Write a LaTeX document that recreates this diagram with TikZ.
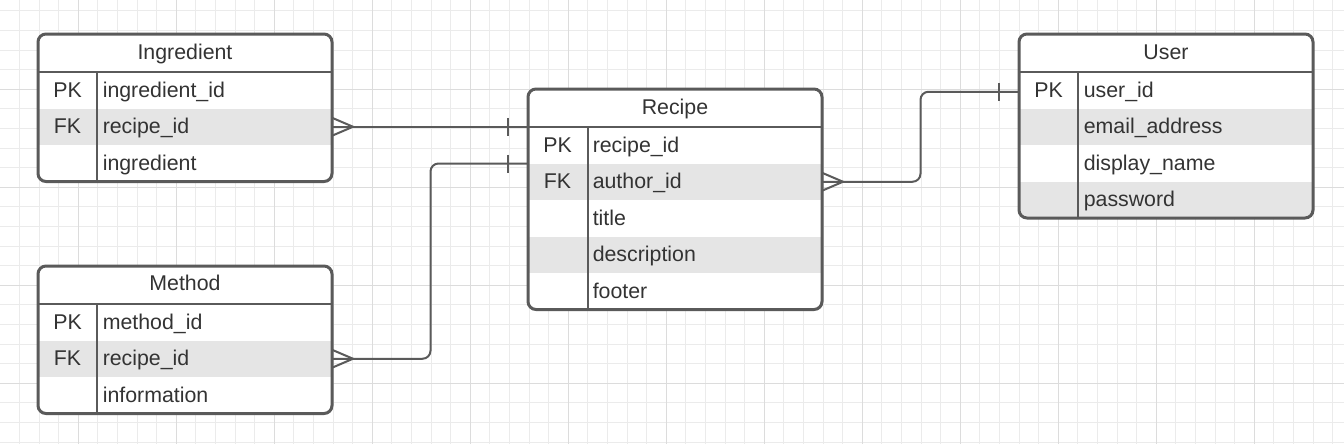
\documentclass[tikz,border=0pt]{standalone}
\usepackage{fontspec}
\setmainfont{Liberation Sans}
\usetikzlibrary{positioning,
                calc}               % shifted anchors

\definecolor{gridminor}{HTML}{EBEBEB}
\definecolor{gridmajor}{HTML}{DCDCDC}
\definecolor{edge}{HTML}{5A5A5A}
\definecolor{rowgray}{HTML}{E5E5E5}
\definecolor{ink}{HTML}{333333}

\tikzset{
  tbl/.style={draw=edge, line width=2.25pt, rounded corners=6pt},
  sep/.style={draw=edge, line width=1.5pt},
  rowbox/.style={minimum width=220.5pt, minimum height=27.375pt, inner sep=0pt, outer sep=0pt},
  txt/.style={text=ink, inner sep=0pt, anchor=base, font=\fontsize{16}{19}\selectfont},
  link/.style={draw=edge, line width=1.5pt, rounded corners=6pt},
  foot/.style={draw=edge, line width=1.5pt, sharp corners},
}

\begin{document}
\begin{tikzpicture}[x=0.75pt, y=-0.75pt]
        \useasboundingbox (0,0) rectangle (1344,444);
        \fill[white] (0,0) rectangle (1344,444);

        % grid
        \foreach \k in {0,...,68}
          \draw[gridminor, line width=0.75pt] ({-0.1+19.6*\k},0) -- ++(0,444);
        \foreach \k in {0,...,22}
          \draw[gridminor, line width=0.75pt] (0,{10.9+19.6*\k}) -- ++(1344,0);
        \foreach \k in {4,9,...,64}
          \draw[gridmajor, line width=0.75pt] ({-0.1+19.6*\k},0) -- ++(0,444);
        \foreach \k in {4,9,...,19}
          \draw[gridmajor, line width=0.75pt] (0,{10.9+19.6*\k}) -- ++(1344,0);

        % Ingredient
        \begin{scope}
          \clip[rounded corners=6pt] (38,34) rectangle (332,181.5);
          \fill[white] (38,34) rectangle (332,181.5);
          \foreach \k/\f [count=\i] in {PK/ingredient\_id, FK/recipe\_id, /ingredient} {
            \pgfmathtruncatemacro\shade{isodd(\i) ? 0 : 100}
            \node[rowbox, fill=rowgray!\shade!white] (ingr-\i) at (185,{53.75+36.5*\i}) {};
            \node[txt] at ($(ingr-\i.west)+(29.5,7)$) {\k};
            \node[txt, anchor=base west] at ($(ingr-\i.west)+(64.5,7)$) {\f};
          }
        \end{scope}
        \node[txt] (ingr) at (185,59.3) {Ingredient};
        \draw[tbl] (38,34) rectangle (332,181.5);
        \draw[sep] (38,72) -- (332,72);
        \draw[sep] (97,72) -- (97,181.5);

        % Method
        \begin{scope}
          \clip[rounded corners=6pt] (38,266) rectangle (332,413.5);
          \fill[white] (38,266) rectangle (332,413.5);
          \foreach \k/\f [count=\i] in {PK/method\_id, FK/recipe\_id, /information} {
            \pgfmathtruncatemacro\shade{isodd(\i) ? 0 : 100}
            \node[rowbox, fill=rowgray!\shade!white] (meth-\i) at (185,{285.75+36.5*\i}) {};
            \node[txt] at ($(meth-\i.west)+(29.5,7)$) {\k};
            \node[txt, anchor=base west] at ($(meth-\i.west)+(64.5,7)$) {\f};
          }
        \end{scope}
        \node[txt] (meth) at (185,290.3) {Method};
        \draw[tbl] (38,266) rectangle (332,413.5);
        \draw[sep] (38,304) -- (332,304);
        \draw[sep] (97,304) -- (97,413.5);

        % Recipe
        \begin{scope}
          \clip[rounded corners=6pt] (528,89) rectangle (822,309.5);
          \fill[white] (528,89) rectangle (822,309.5);
          \foreach \k/\f [count=\i] in {PK/recipe\_id, FK/author\_id, /title, /description, /footer} {
            \pgfmathtruncatemacro\shade{isodd(\i) ? 0 : 100}
            \node[rowbox, fill=rowgray!\shade!white] (recipe-\i) at (675,{108.75+36.5*\i}) {};
            \node[txt] at ($(recipe-\i.west)+(29.5,7)$) {\k};
            \node[txt, anchor=base west] at ($(recipe-\i.west)+(64.5,7)$) {\f};
          }
        \end{scope}
        \node[txt] (recipe) at (675,114.3) {Recipe};
        \draw[tbl] (528,89) rectangle (822,309.5);
        \draw[sep] (528,127) -- (822,127);
        \draw[sep] (587.5,127) -- (587.5,309.5);

        % User
        \begin{scope}
          \clip[rounded corners=6pt] (1019,34) rectangle (1313,218);
          \fill[white] (1019,34) rectangle (1313,218);
          \foreach \k/\f [count=\i] in {PK/user\_id, /email\_address, /display\_name, /password} {
            \pgfmathtruncatemacro\shade{isodd(\i) ? 0 : 100}
            \node[rowbox, fill=rowgray!\shade!white] (user-\i) at (1166,{53.75+36.5*\i}) {};
            \node[txt] at ($(user-\i.west)+(29.5,7)$) {\k};
            \node[txt, anchor=base west] at ($(user-\i.west)+(64.5,7)$) {\f};
          }
        \end{scope}
        \node[txt] (user) at (1166,59.3) {User};
        \draw[tbl] (1019,34) rectangle (1313,218);
        \draw[sep] (1019,72) -- (1313,72);
        \draw[sep] (1078,72) -- (1078,218);

        % relations
        \coordinate (bend1) at (430.5,0);
        \coordinate (bend2) at (920.5,0);

        \draw[link] (ingr-2.east) -- (ingr-2.east -| recipe-1.west);
        \draw[foot] ($(ingr-2.east)+(0,-9)$) -- ($(ingr-2.east)+(21,0)$) -- ($(ingr-2.east)+(0,9)$);
        \draw[foot] ($(ingr-2.east -| recipe-1.west)+(-20,-9)$) -- ++(0,18);

        \draw[link] (meth-2.east) -- (meth-2.east -| bend1) |- (recipe-1.south west);
        \draw[foot] ($(meth-2.east)+(0,-9)$) -- ($(meth-2.east)+(21,0)$) -- ($(meth-2.east)+(0,9)$);
        \draw[foot] ($(recipe-1.south west)+(-20,-9)$) -- ++(0,18);

        \draw[link] (recipe-2.east) -- (recipe-2.east -| bend2) |- ($(user-1.west)+(0,1.5)$);
        \draw[foot] ($(recipe-2.east)+(0,-9)$) -- ($(recipe-2.east)+(21,0)$) -- ($(recipe-2.east)+(0,9)$);
        \draw[foot] ($(user-1.west)+(-20,-7.5)$) -- ++(0,18);

\end{tikzpicture}
\end{document}
